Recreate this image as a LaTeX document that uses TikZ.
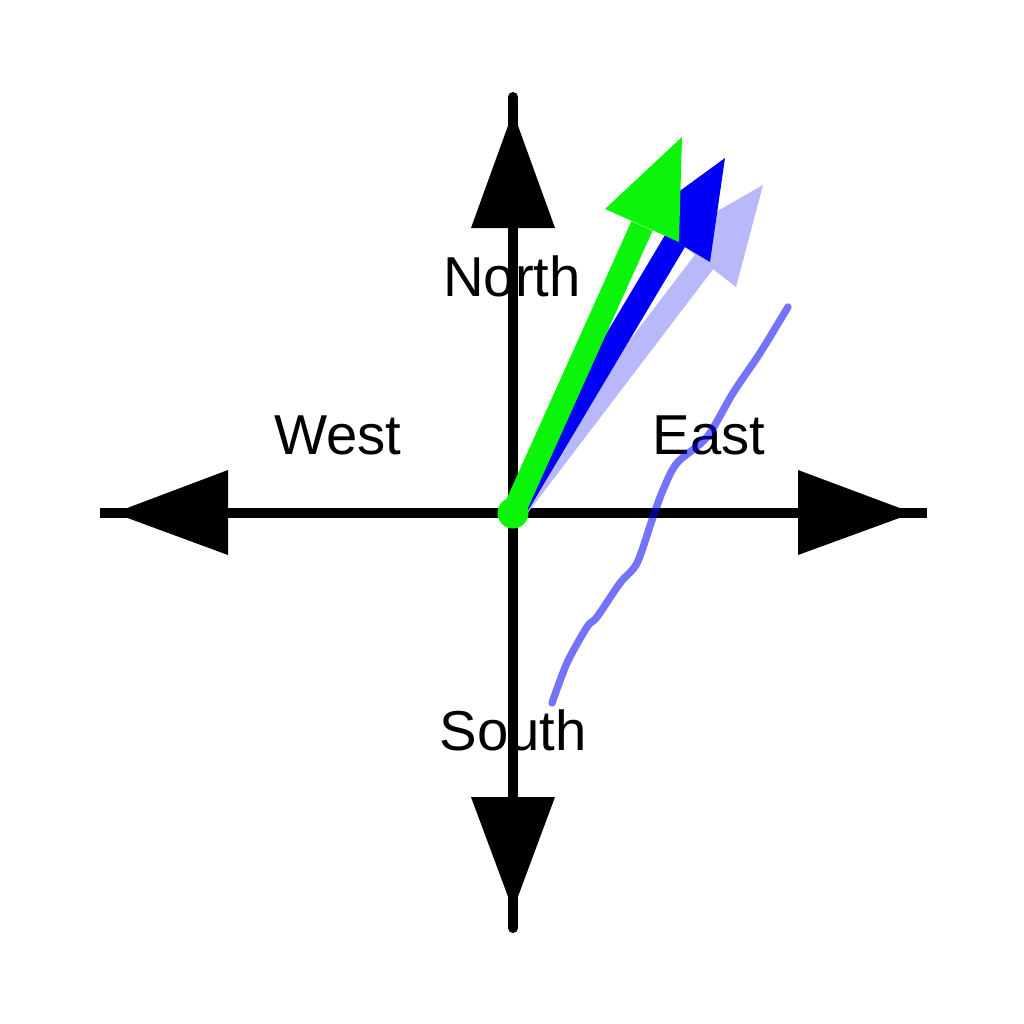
\documentclass[tikz,border=0pt]{standalone}
\usepackage{fontspec}
\setmainfont{Liberation Sans}
\definecolor{lime}{RGB}{10,245,10}
\definecolor{pureblue}{RGB}{0,0,250}
\definecolor{paleblue}{RGB}{184,184,250}
\begin{document}
\begin{tikzpicture}[x=0.01cm,y=-0.01cm,
  axisline/.style={line width=2.85pt,black},
  axishead/.style={fill=black},
  lbl/.style={font=\fontsize{16}{19}\selectfont,inner sep=0pt},
  shaft/.style={line width=6.6pt},
  wiggle/.style={line width=2.1pt,pureblue,opacity=0.55,line cap=round,line join=round}]
\useasboundingbox[fill=white] (0,0) rectangle (1024,1024);
% axes
\coordinate (O) at (513,513);
\coordinate (ntop) at (513,97);
\coordinate (sbot) at (513,928);
\coordinate (wend) at (100,513);
\coordinate (eend) at (927,513);
\draw[axisline,line cap=round] (ntop) -- (sbot);
\draw[axisline] (wend) -- (eend);
% axis heads
\coordinate (nt) at (513,112); \coordinate (nl) at (471,228); \coordinate (nr) at (555,228);
\coordinate (st) at (513,910); \coordinate (sl) at (471,797); \coordinate (sr) at (555,797);
\coordinate (wt) at (114,513); \coordinate (wu) at (228,470); \coordinate (wd) at (228,555);
\coordinate (et) at (913,513); \coordinate (eu) at (798,470); \coordinate (ed) at (798,555);
\fill[axishead] (nt) -- (nl) -- (nr) -- cycle;
\fill[axishead] (st) -- (sl) -- (sr) -- cycle;
\fill[axishead] (wt) -- (wu) -- (wd) -- cycle;
\fill[axishead] (et) -- (eu) -- (ed) -- cycle;
% labels
\node[lbl] (north) at (512,276) {North};
\node[lbl] (west) at (338,435) {West};
\node[lbl] (east) at (709,435) {East};
\node[lbl] (south) at (513,730) {South};
% pale blue arrow
\coordinate (pt) at (763,185); \coordinate (pm) at (704,262);
\coordinate (pl) at (672,237); \coordinate (pr) at (736,287);
\draw[shaft,paleblue] (O) -- (pm);
\fill[paleblue] (pt) -- (pl) -- (pr) -- cycle;
% blue arrow
\coordinate (bt) at (725,158); \coordinate (bm) at (675,241);
\coordinate (bl) at (640,220); \coordinate (br) at (710,262);
\draw[shaft,pureblue] (O) -- (bm);
\fill[pureblue] (bt) -- (bl) -- (br) -- cycle;
% green arrow
\coordinate (gt) at (682,137); \coordinate (gm) at (642,226);
\coordinate (gl) at (605,209); \coordinate (gr) at (679,242);
\draw[shaft,lime] (O) -- (gm);
\fill[lime] (gt) -- (gl) -- (gr) -- cycle;
\node[circle,fill=lime,minimum size=0.31cm,inner sep=0pt] (dot) at (O) {};
% hand-drawn line
\draw[wiggle] plot[smooth,tension=0.5] coordinates {(788,307) (760,353) (733,393) (707,437) (677,463) (663,490) (653,517) (637,563) (620,583) (597,617) (587,627) (567,663) (552,703)};
\end{tikzpicture}
\end{document}
